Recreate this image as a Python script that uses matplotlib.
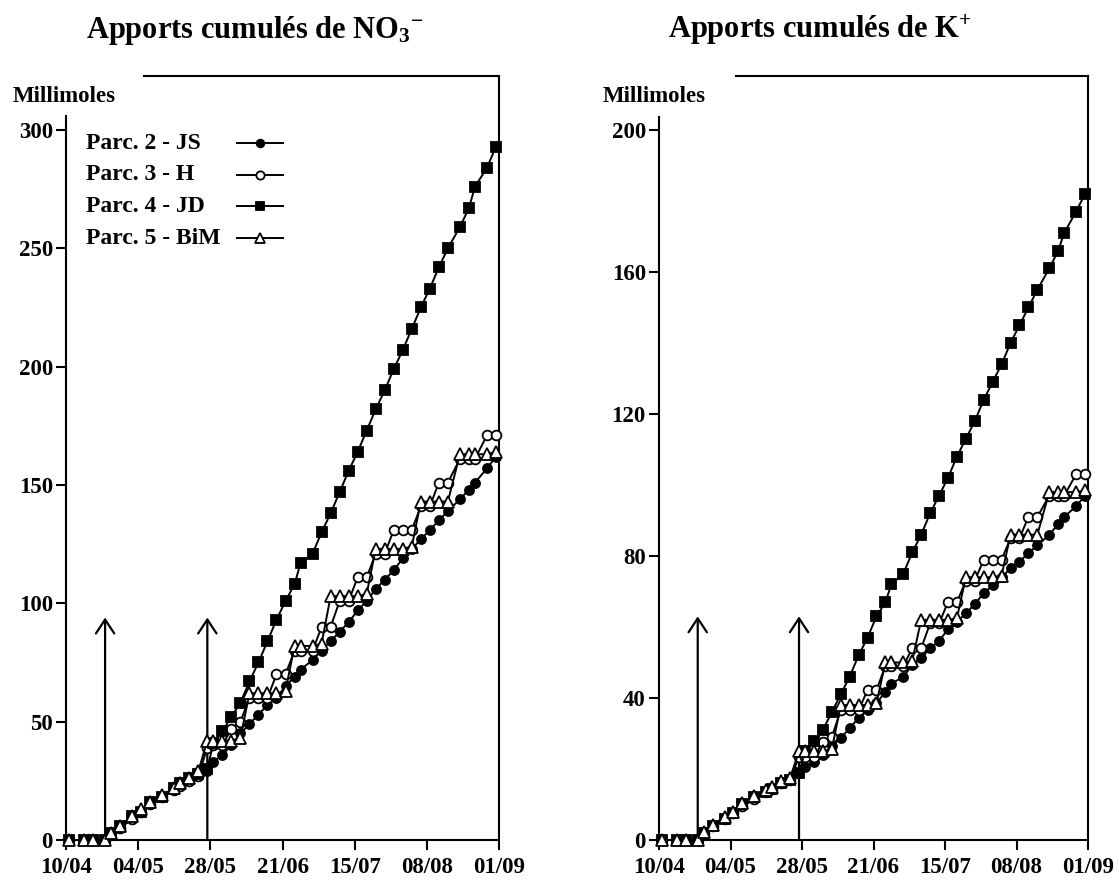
import matplotlib
matplotlib.use("Agg")
import matplotlib.pyplot as plt
from matplotlib.lines import Line2D

plt.rcParams['font.family'] = ['Liberation Serif', 'DejaVu Serif']
plt.rcParams['font.weight'] = 'bold'
plt.rcParams['mathtext.fontset'] = 'custom'
plt.rcParams['mathtext.rm'] = 'Liberation Serif:bold'
plt.rcParams['mathtext.bf'] = 'Liberation Serif:bold'
plt.rcParams['mathtext.it'] = 'Liberation Serif:bold:italic'

# days counted from 10/04
days = [1, 6, 9, 13, 15, 18, 22, 25, 28, 32, 36, 38, 41, 44, 47, 49, 52, 55, 58,
        61, 64, 67, 70, 73, 76, 78, 82, 85, 88, 91, 94, 97, 100, 103, 106, 109,
        112, 115, 118, 121, 124, 127, 131, 134, 136, 140, 143]
tick_days = [0, 24, 48, 72, 96, 120, 144]
tick_labels = ['10/04', '04/05', '28/05', '21/06', '15/07', '08/08', '01/09']
arrow_days = [13, 47]
labels = ['Parc. 2 - JS', 'Parc. 3 - H', 'Parc. 4 - JD', 'Parc. 5 - BiM']

# NO3- (millimoles)
js_no3 = [0, 0, 0, 0, 2, 5, 9, 12, 15, 18, 21, 23, 25, 27, 29, 33, 36, 40, 45, 49,
          53, 57, 60, 65, 69, 72, 76, 80, 84, 88, 92, 97, 101, 106, 110, 114, 119,
          123, 127, 131, 135, 139, 144, 148, 151, 157, 162]
h_no3 = [0, 0, 0, 0, 3, 5, 9, 12, 15, 18, 21, 23, 25, 27, 39, 40, 40, 47, 50, 60,
         60, 60, 70, 70, 80, 80, 80, 90, 90, 101, 101, 111, 111, 121, 121, 131, 131,
         131, 141, 141, 151, 151, 161, 161, 161, 171, 171]
jd_no3 = [0, 0, 0, 0, 3, 6, 10, 12, 16, 18, 22, 24, 26, 28, 30, 41, 46, 52, 58, 67,
          75, 84, 93, 101, 108, 117, 121, 130, 138, 147, 156, 164, 173, 182, 190,
          199, 207, 216, 225, 233, 242, 250, 259, 267, 276, 284, 293]
bim_no3 = [0, 0, 0, 0, 3, 6, 10, 13, 16, 19, 22, 24, 26, 29, 42, 42, 42, 42, 43, 62,
           62, 62, 62, 63, 82, 82, 82, 83, 103, 103, 103, 103, 104, 123, 123, 123,
           123, 124, 143, 143, 143, 143, 163, 163, 163, 163, 164]

# K+ (millimoles)
js_k = [0, 0, 0, 0, 2, 4, 6, 7.5, 9.5, 11.5, 13.5, 14.5, 16, 17, 19, 20.5, 22, 24,
        26.5, 28.7, 31.5, 34.4, 36.5, 38.5, 41.8, 44, 46, 49.3, 51.2, 54, 56, 59.4,
        61.5, 63.8, 66.5, 69.5, 71.8, 74, 76.5, 78.4, 80.8, 83, 86, 89, 91, 94, 97]
h_k = [0, 0, 0, 0, 2, 4, 6, 7.5, 9.5, 11.5, 13.5, 14.5, 16, 17, 23.4, 23.4, 23.4,
       27.7, 29, 36.5, 36.5, 36.5, 42.3, 42.3, 49, 49, 49, 54, 54, 61, 61, 67, 67,
       73, 73, 79, 79, 79, 85, 85, 91, 91, 97, 97, 97, 103, 103]
jd_k = [0, 0, 0, 0, 2, 4, 6, 7.5, 10, 12, 13.5, 14.5, 16, 17, 19, 25, 28, 31, 36,
        41, 46, 52, 57, 63, 67, 72, 75, 81, 86, 92, 97, 102, 108, 113, 118, 124,
        129, 134, 140, 145, 150, 155, 161, 166, 171, 177, 182]
bim_k = [0, 0, 0, 0, 2.2, 4.2, 6.5, 8, 10.5, 12.3, 14, 15, 16.5, 17.5, 25, 25, 25,
         25, 25.5, 38, 38, 38, 38, 38.5, 50, 50, 50, 50.5, 62, 62, 62, 62, 62.5, 74,
         74, 74, 74, 74.5, 86, 86, 86, 86, 98, 98, 98, 98, 98.5]

# marker, face colour, size
styles = [('o', 'black', 6.5), ('o', 'white', 7), ('s', 'black', 7), ('^', 'white', 8)]

W, H = 1119, 884
fig = plt.figure(figsize=(W / 100, H / 100), dpi=100)


def panel(rect, series, ytop, yticks, spine_top, arrow_tip, title, title_x, ylab_x):
    ax = fig.add_axes(rect)
    for vals, (mk, fc, ms) in zip(series, styles):
        ax.plot(days, vals, color='black', lw=1.4, marker=mk, mfc=fc, mec='black',
                mew=1.3, ms=ms, zorder=3, clip_on=False)
    for d in arrow_days:
        ax.annotate('', xy=(d, arrow_tip), xytext=(d, 0),
                    arrowprops=dict(arrowstyle='->,head_length=0.5,head_width=0.33',
                                    lw=1.6, color='black', shrinkA=0, shrinkB=0,
                                    mutation_scale=20), zorder=1)
    ax.set_xlim(0, 144)
    ax.set_ylim(0, ytop)
    ax.set_xticks(tick_days)
    ax.set_xticklabels(tick_labels)
    ax.set_yticks(yticks)
    for s in ax.spines.values():
        s.set_linewidth(1.5)
    ax.spines['left'].set_bounds(0, spine_top)
    ax.spines['top'].set_bounds(26, 144)
    ax.tick_params(direction='out', length=7.5, width=1.5, labelsize=16.5)
    ax.tick_params(axis='x', pad=5)
    ax.tick_params(axis='y', pad=2)
    fig.text(title_x / W, 1 - 38 / H, title, ha='center', va='baseline', fontsize=22)
    fig.text(ylab_x / W, 1 - 96 / H, 'Millimoles', ha='left', va='center', fontsize=16.5)
    return ax


ax1 = panel([66 / W, 44 / H, 433 / W, 764 / H], [js_no3, h_no3, jd_no3, bim_no3],
            322.8, [0, 50, 100, 150, 200, 250, 300], 306, 94,
            r'Apports cumulés de NO$_3{}^{-}$', 255, 13)
ax2 = panel([659 / W, 44 / H, 429 / W, 764 / H], [js_k, h_k, jd_k, bim_k],
            215.2, [0, 40, 80, 120, 160, 200], 203.7, 63,
            r'Apports cumulés de K$^{+}$', 820, 603)

# legend drawn by hand: text left aligned, samples lined up on the right
for i, (lab, (mk, fc, ms)) in enumerate(zip(labels, styles)):
    y = 0.912 - i * 0.0414
    ax1.text(0.046, y, lab, transform=ax1.transAxes, ha='left', va='center', fontsize=17)
    ax1.add_line(Line2D([0.396, 0.502], [y, y], transform=ax1.transAxes, color='black',
                        lw=1.4))
    ax1.add_line(Line2D([0.449], [y], transform=ax1.transAxes, marker=mk, mfc=fc,
                        mec='black', mew=1.3, ms=ms * 0.85))

fig.savefig('out.png', dpi=100)
